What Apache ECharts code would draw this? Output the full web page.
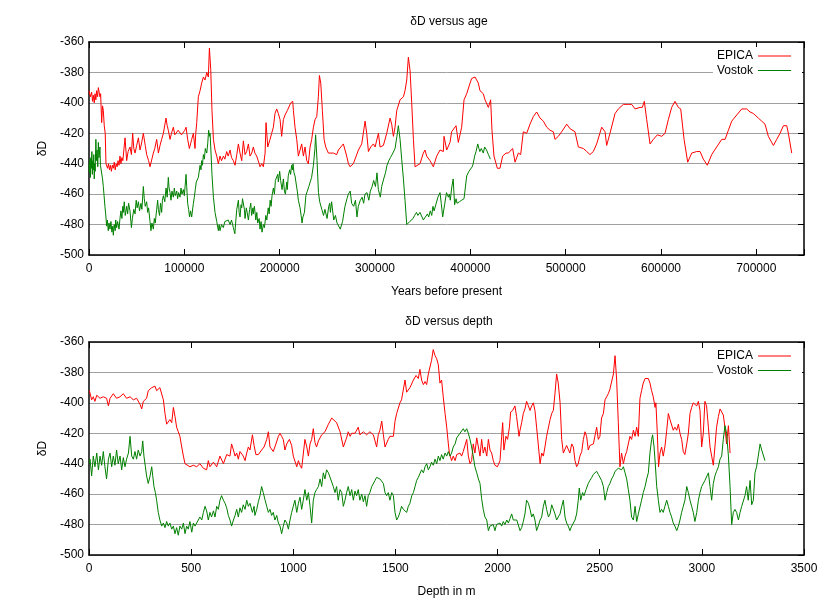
<!DOCTYPE html>
<html><head><meta charset="utf-8">
<script src="https://cdn.jsdelivr.net/npm/echarts@6/dist/echarts.min.js"></script>
<style>html,body{margin:0;padding:0;background:#fff}#c{width:840px;height:600px}</style>
</head><body><div id="c"></div>
<script>
// ---- data ----
const ageTicks = [0,100000,200000,300000,400000,500000,600000,700000];
const depthTicks = [0,500,1000,1500,2000,2500,3000,3500];
const dDTicks = [-500,-480,-460,-440,-420,-400,-380,-360];
const seriesNames = ['EPICA','Vostok'];

// δD versus age (years before present, δD)
const epicaAge = [[0,-392],[1400,-396],[2800,-393],[3700,-399],[4600,-395],[5500,-400],[6300,-394],[7200,-398],[8000,-392],[9000,-396],[9800,-390],[10800,-389],[11500,-396],[12200,-394],[13300,-413],[14200,-402],[15000,-405],[16000,-415],[17000,-420],[17800,-440],[18500,-441],[19500,-443],[20500,-440],[21500,-444],[22500,-441],[23500,-445],[24500,-441],[25500,-443],[26500,-439],[27500,-444],[28500,-440],[29500,-442],[30500,-438],[31500,-441],[32500,-435],[33500,-440],[34500,-436],[35500,-438],[37800,-423],[39500,-438],[41000,-432],[43000,-429],[44500,-434],[45800,-420],[47000,-430],[48300,-433],[50000,-428],[51800,-423],[53500,-431],[55000,-427],[57000,-420],[59000,-428],[60500,-434],[62500,-438],[64000,-442],[65800,-443],[67500,-433],[69000,-430],[71000,-424],[72800,-433],[74500,-428],[76200,-424],[78000,-420],[80800,-410],[82000,-415],[83200,-418],[85000,-424],[86500,-420],[88500,-416],[90000,-421],[92000,-420],[93500,-418],[95500,-417],[97000,-421],[99000,-420],[100500,-418],[101800,-416],[103500,-424],[105300,-430],[106500,-427],[107700,-424],[109500,-420],[111200,-430],[112000,-420],[113000,-413],[114700,-396],[116500,-392],[118200,-387],[120000,-383],[121700,-385],[123500,-380],[125200,-383],[126300,-364],[127700,-378],[129000,-405],[130500,-424],[132200,-431],[134000,-435],[135700,-440],[137400,-435],[139000,-438],[141000,-435],[142500,-437],[144400,-432],[146000,-435],[148000,-431],[149500,-436],[151400,-438],[153200,-441],[155000,-434],[156700,-427],[158400,-433],[160200,-438],[161900,-425],[163700,-434],[165400,-432],[167200,-427],[168900,-435],[170700,-433],[172400,-429],[174000,-433],[175900,-435],[177500,-438],[179400,-442],[181200,-440],[182900,-442],[184700,-433],[185700,-413],[187500,-429],[189900,-424],[191600,-420],[193400,-416],[195100,-407],[196900,-404],[198600,-407],[200400,-411],[202100,-422],[203900,-411],[205600,-408],[208100,-405],[209500,-406],[211600,-400],[213700,-399],[214400,-405],[216100,-416],[217900,-424],[219600,-435],[221400,-436],[223100,-427],[224900,-435],[226600,-429],[228400,-438],[230100,-440],[231900,-429],[233600,-424],[235400,-416],[237100,-411],[238900,-409],[240600,-396],[241700,-382],[243100,-387],[244800,-405],[246600,-424],[248300,-429],[251100,-433],[252900,-434],[256300,-433],[259800,-434],[261600,-431],[263300,-432],[266800,-427],[270300,-435],[272100,-440],[273800,-442],[277300,-440],[279100,-440],[282600,-431],[286100,-427],[289600,-412],[291300,-420],[293100,-432],[295500,-429],[298300,-427],[300100,-429],[303600,-420],[305300,-429],[308800,-428],[312300,-420],[315800,-410],[317500,-414],[319300,-422],[321000,-416],[322800,-405],[326300,-398],[329800,-396],[331500,-392],[333300,-385],[335000,-370],[336800,-379],[338500,-400],[340300,-424],[342000,-442],[347200,-440],[350700,-433],[352400,-431],[354200,-435],[357700,-438],[361200,-442],[364700,-435],[368200,-431],[371700,-432],[372400,-422],[375200,-431],[378700,-426],[380400,-419],[382200,-420],[385000,-415],[387400,-426],[390900,-416],[393400,-398],[396200,-394],[399700,-387],[401400,-384],[404900,-383],[408400,-387],[410100,-392],[413600,-394],[415400,-398],[418900,-403],[421300,-398],[422700,-418],[424800,-435],[428300,-443],[431100,-443],[433900,-435],[437400,-433],[439900,-433],[441600,-432],[444400,-430],[446900,-439],[450400,-433],[452800,-434],[455600,-419],[459100,-420],[462600,-414],[466100,-409],[469600,-406],[473100,-410],[476600,-412],[480100,-416],[483600,-418],[487100,-419],[488800,-424],[492300,-422],[495800,-419],[501100,-414],[504600,-417],[509800,-419],[513300,-429],[518600,-430],[522100,-432],[525500,-434],[529000,-432],[532500,-427],[537800,-416],[541300,-419],[543000,-428],[546500,-420],[551800,-407],[555300,-404],[560500,-401],[565800,-401],[569300,-401],[572800,-404],[578000,-403],[580400,-403],[582500,-399],[585000,-411],[588500,-427],[592000,-424],[596200,-421],[600700,-422],[604200,-420],[607700,-411],[611200,-403],[614700,-399],[618200,-403],[620700,-404],[624200,-424],[628000,-439],[632200,-433],[637500,-432],[641000,-432],[644400,-437],[648600,-441],[653200,-434],[658400,-429],[663700,-424],[667200,-424],[670700,-418],[674200,-412],[679400,-408],[684700,-404],[689900,-404],[693400,-406],[696900,-407],[698700,-406],[702100,-410],[705600,-412],[709100,-414],[712600,-422],[717900,-428],[721400,-424],[724900,-420],[728400,-415],[731900,-415],[733600,-420],[737100,-433]];

const vostokAge = [[0,-440],[500,-446],[1000,-437],[1500,-449],[2000,-436],[2500,-443],[3000,-432],[3500,-447],[4000,-438],[4500,-444],[5000,-434],[5500,-450],[6000,-440],[6500,-445],[7200,-424],[7800,-438],[8500,-431],[9200,-442],[9800,-426],[10500,-436],[11500,-429],[12000,-441],[13300,-442],[14200,-450],[15000,-455],[15800,-461],[16700,-468],[17500,-473],[18500,-481],[19300,-477],[20200,-484],[21000,-479],[22000,-483],[23000,-478],[24000,-485],[25000,-481],[25500,-487],[26500,-480],[27500,-484],[28000,-477],[29000,-482],[30000,-478],[31500,-483],[32500,-476],[33500,-471],[34500,-476],[35500,-468],[36000,-472],[37000,-465],[38000,-474],[39500,-468],[40500,-473],[41500,-466],[43000,-471],[44500,-482],[45500,-476],[47000,-470],[48300,-473],[49500,-464],[50500,-469],[51800,-465],[53000,-471],[54500,-466],[55500,-470],[57000,-455],[58000,-463],[59000,-468],[60500,-465],[61500,-472],[62500,-469],[64000,-478],[65000,-484],[66000,-479],[67500,-483],[68500,-476],[69500,-479],[71000,-470],[72000,-464],[72800,-470],[74000,-474],[75000,-466],[76200,-472],[77000,-464],[78000,-461],[79500,-465],[80800,-456],[82000,-462],[83200,-449],[84000,-456],[85000,-459],[86000,-464],[87000,-458],[88500,-462],[89500,-456],[90500,-461],[92000,-458],[93000,-463],[94000,-459],[95500,-462],[96500,-456],[97500,-460],[99000,-457],[100000,-461],[101800,-447],[102500,-455],[103500,-466],[104500,-470],[105500,-475],[106500,-471],[107700,-475],[109500,-466],[110500,-462],[111500,-457],[112500,-452],[114700,-449],[116500,-441],[117500,-444],[118200,-438],[119000,-441],[120000,-434],[121000,-437],[122000,-430],[123500,-433],[124500,-427],[125500,-418],[126300,-422],[127000,-420],[127700,-429],[129000,-447],[130500,-462],[132200,-472],[134000,-478],[135700,-484],[136500,-480],[137400,-484],[139000,-480],[140900,-482],[142500,-478],[144400,-479],[146000,-477],[148000,-480],[149500,-477],[151400,-482],[153000,-486],[153800,-479],[155000,-470],[156700,-464],[157500,-472],[158400,-475],[159500,-467],[160200,-469],[161000,-463],[161900,-462],[163000,-470],[163700,-476],[165000,-469],[165900,-472],[167200,-477],[168500,-470],[169700,-466],[170600,-474],[172000,-469],[172400,-473],[173500,-468],[175000,-477],[176000,-472],[177000,-479],[178500,-476],[179400,-483],[180500,-478],[181500,-485],[182900,-480],[184000,-482],[185500,-474],[186500,-477],[188000,-469],[189000,-473],[190000,-464],[191000,-468],[192000,-461],[193400,-456],[194500,-460],[195500,-451],[196900,-452],[198000,-447],[198600,-452],[200000,-445],[201000,-451],[202500,-457],[203900,-450],[205000,-458],[206000,-460],[207500,-452],[208000,-457],[209000,-448],[210500,-444],[211500,-447],[212500,-441],[213500,-444],[214000,-440],[215000,-446],[216100,-448],[217500,-454],[218500,-458],[219600,-464],[221400,-469],[222500,-474],[223500,-479],[224400,-475],[226000,-472],[227500,-461],[229000,-458],[230600,-455],[232000,-452],[233500,-449],[235400,-441],[237000,-430],[237700,-421],[239200,-438],[240700,-459],[242000,-465],[244200,-470],[246000,-474],[247500,-470],[249700,-476],[251500,-468],[252500,-466],[253200,-472],[254500,-465],[256700,-477],[258500,-474],[260200,-479],[262000,-480],[263600,-483],[264500,-481],[266000,-478],[267200,-473],[268500,-468],[270600,-463],[272000,-460],[274000,-458],[275500,-466],[277600,-468],[279500,-464],[281100,-475],[282500,-468],[284600,-464],[286500,-462],[288100,-466],[289500,-460],[291600,-459],[293500,-464],[295100,-458],[297000,-455],[298600,-451],[300500,-455],[302100,-446],[303500,-457],[305600,-462],[307000,-455],[309100,-450],[311000,-446],[312600,-441],[314500,-438],[316100,-436],[318000,-434],[319600,-435],[321000,-430],[323000,-422],[324500,-415],[326300,-424],[328000,-437],[329800,-450],[331500,-464],[333300,-480],[335000,-479],[336500,-478],[338500,-477],[340000,-476],[341500,-474],[343500,-472],[345000,-474],[347200,-472],[350700,-477],[352400,-478],[355000,-473],[356300,-475],[358000,-471],[359500,-474],[360800,-468],[362000,-471],[364000,-470],[366000,-462],[368200,-459],[369500,-466],[371000,-475],[373000,-467],[375000,-459],[377000,-462],[378000,-460],[379000,-464],[380400,-456],[382000,-450],[383500,-467],[385000,-463],[386000,-466],[388500,-465],[390900,-464],[393400,-463],[396200,-448],[398500,-445],[400000,-446],[402000,-442],[403000,-440],[404500,-435],[406000,-432],[407800,-427],[409000,-430],[410000,-432],[411500,-430],[413600,-433],[415000,-429],[417000,-431],[419000,-434],[421000,-437]];

// δD versus depth (metres, δD)
const epicaDepth = [[2,-392],[13,-398],[21,-396],[29,-399],[38,-395],[46,-396],[54,-397],[70,-396],[86,-397],[95,-402],[103,-397],[119,-394],[135,-397],[152,-396],[168,-394],[184,-397],[201,-396],[217,-398],[233,-397],[250,-401],[258,-404],[266,-399],[282,-397],[290,-392],[307,-390],[315,-391],[323,-389],[331,-392],[347,-390],[356,-391],[364,-398],[372,-407],[380,-414],[388,-415],[396,-411],[405,-413],[413,-403],[421,-409],[429,-416],[437,-419],[445,-422],[454,-429],[462,-435],[470,-440],[478,-441],[494,-442],[511,-441],[527,-442],[543,-440],[560,-443],[576,-444],[584,-438],[592,-442],[609,-439],[625,-442],[641,-435],[658,-440],[674,-434],[690,-435],[698,-427],[707,-431],[715,-435],[723,-433],[731,-437],[739,-432],[755,-435],[764,-438],[772,-433],[780,-429],[788,-431],[800,-421],[808,-428],[817,-434],[829,-434],[845,-431],[857,-429],[870,-424],[878,-419],[886,-429],[902,-432],[915,-427],[927,-422],[935,-420],[943,-422],[951,-424],[959,-431],[968,-427],[981,-424],[992,-428],[1000,-435],[1017,-442],[1025,-438],[1033,-441],[1041,-443],[1049,-442],[1057,-424],[1066,-429],[1074,-435],[1082,-427],[1090,-424],[1098,-417],[1106,-426],[1114,-429],[1123,-425],[1131,-424],[1139,-421],[1147,-420],[1155,-419],[1172,-414],[1188,-410],[1196,-410],[1212,-413],[1229,-419],[1245,-429],[1261,-423],[1269,-419],[1278,-422],[1286,-420],[1302,-420],[1318,-416],[1326,-421],[1343,-419],[1359,-421],[1375,-419],[1392,-421],[1408,-429],[1416,-421],[1424,-418],[1433,-412],[1441,-421],[1449,-429],[1457,-430],[1465,-424],[1473,-422],[1490,-422],[1498,-412],[1506,-407],[1522,-400],[1530,-398],[1547,-385],[1555,-393],[1571,-390],[1588,-385],[1601,-382],[1612,-384],[1620,-378],[1628,-385],[1637,-388],[1645,-386],[1653,-388],[1661,-381],[1669,-380],[1677,-372],[1685,-365],[1694,-369],[1702,-371],[1710,-375],[1718,-387],[1726,-385],[1734,-396],[1743,-407],[1751,-416],[1759,-427],[1764,-433],[1775,-438],[1783,-435],[1792,-438],[1800,-434],[1808,-435],[1816,-433],[1824,-435],[1832,-432],[1840,-433],[1849,-424],[1857,-435],[1865,-440],[1873,-438],[1881,-427],[1889,-433],[1898,-423],[1906,-429],[1914,-435],[1922,-424],[1930,-433],[1938,-429],[1947,-435],[1955,-424],[1963,-431],[1971,-433],[1979,-438],[1987,-441],[1999,-442],[2012,-438],[2020,-422],[2025,-413],[2031,-431],[2041,-422],[2049,-424],[2058,-416],[2064,-406],[2074,-405],[2085,-402],[2093,-409],[2105,-422],[2110,-418],[2118,-413],[2126,-407],[2134,-404],[2142,-399],[2151,-402],[2159,-405],[2167,-402],[2175,-400],[2183,-405],[2191,-416],[2199,-427],[2208,-440],[2216,-433],[2224,-435],[2232,-429],[2240,-422],[2257,-411],[2265,-407],[2273,-405],[2281,-394],[2289,-381],[2297,-387],[2306,-400],[2314,-424],[2322,-433],[2330,-433],[2338,-428],[2354,-433],[2363,-427],[2371,-429],[2379,-438],[2387,-442],[2395,-440],[2403,-435],[2412,-432],[2420,-424],[2428,-419],[2436,-422],[2444,-431],[2452,-428],[2461,-429],[2469,-427],[2485,-416],[2493,-424],[2501,-422],[2509,-410],[2518,-407],[2526,-398],[2534,-396],[2542,-394],[2550,-391],[2558,-390],[2567,-381],[2575,-369],[2583,-385],[2591,-413],[2599,-442],[2607,-433],[2616,-440],[2624,-435],[2632,-432],[2640,-433],[2648,-422],[2656,-424],[2665,-418],[2673,-422],[2681,-416],[2689,-422],[2697,-397],[2705,-392],[2713,-387],[2722,-384],[2730,-383],[2738,-384],[2746,-387],[2754,-392],[2762,-396],[2771,-403],[2775,-400],[2782,-420],[2788,-442],[2795,-433],[2803,-429],[2811,-435],[2819,-429],[2828,-418],[2836,-407],[2844,-411],[2852,-410],[2860,-418],[2868,-416],[2877,-418],[2885,-414],[2893,-420],[2901,-424],[2909,-432],[2917,-434],[2926,-427],[2934,-420],[2942,-407],[2950,-403],[2958,-400],[2966,-401],[2975,-402],[2983,-399],[2991,-405],[2999,-429],[3007,-420],[3015,-399],[3023,-402],[3032,-416],[3040,-429],[3048,-435],[3056,-441],[3064,-429],[3072,-416],[3081,-409],[3089,-404],[3097,-405],[3105,-408],[3113,-416],[3121,-427],[3130,-415],[3138,-433]];

const vostokDepth = [[2,-440],[5,-437],[13,-448],[21,-435],[29,-442],[38,-433],[46,-444],[54,-435],[62,-441],[70,-432],[78,-442],[86,-450],[95,-437],[103,-433],[111,-442],[119,-435],[127,-441],[135,-431],[143,-440],[152,-435],[160,-444],[168,-436],[176,-442],[184,-437],[193,-433],[201,-422],[209,-435],[217,-437],[225,-432],[233,-437],[241,-431],[250,-435],[258,-432],[263,-425],[269,-435],[276,-442],[282,-448],[290,-453],[299,-448],[307,-442],[312,-448],[318,-455],[325,-459],[331,-464],[339,-472],[347,-477],[356,-481],[364,-479],[372,-482],[380,-478],[388,-481],[396,-479],[405,-483],[413,-481],[421,-486],[429,-482],[437,-487],[445,-481],[454,-483],[462,-479],[470,-486],[478,-481],[486,-483],[494,-478],[503,-485],[511,-479],[519,-481],[527,-480],[535,-477],[543,-475],[552,-477],[560,-472],[568,-468],[576,-471],[584,-477],[592,-472],[600,-475],[609,-471],[617,-475],[625,-468],[633,-470],[641,-464],[649,-461],[658,-464],[666,-466],[674,-469],[682,-474],[690,-477],[698,-481],[707,-477],[715,-474],[723,-470],[731,-475],[739,-469],[747,-472],[755,-467],[764,-470],[772,-464],[780,-468],[788,-466],[800,-472],[808,-468],[812,-474],[821,-470],[829,-465],[837,-461],[845,-455],[853,-459],[862,-464],[870,-468],[878,-472],[886,-470],[894,-474],[902,-472],[910,-477],[919,-474],[927,-479],[935,-481],[943,-486],[951,-481],[959,-477],[968,-479],[976,-483],[984,-477],[992,-472],[1000,-468],[1008,-464],[1017,-472],[1025,-466],[1033,-462],[1041,-470],[1049,-464],[1057,-457],[1066,-464],[1074,-459],[1082,-468],[1090,-479],[1098,-464],[1106,-459],[1114,-457],[1123,-455],[1131,-450],[1139,-455],[1147,-446],[1155,-450],[1163,-444],[1172,-446],[1180,-445],[1188,-452],[1196,-455],[1204,-459],[1212,-455],[1220,-464],[1229,-457],[1237,-459],[1245,-468],[1253,-464],[1261,-459],[1269,-455],[1278,-461],[1286,-457],[1294,-464],[1302,-458],[1310,-461],[1318,-457],[1326,-464],[1335,-460],[1343,-465],[1351,-461],[1359,-468],[1367,-461],[1375,-459],[1384,-455],[1392,-456],[1400,-451],[1408,-449],[1416,-448],[1424,-450],[1433,-449],[1441,-453],[1449,-459],[1457,-461],[1465,-459],[1473,-464],[1482,-459],[1490,-461],[1498,-472],[1506,-477],[1514,-475],[1522,-472],[1530,-468],[1539,-470],[1547,-469],[1555,-472],[1563,-468],[1571,-466],[1580,-461],[1588,-459],[1596,-455],[1604,-451],[1612,-449],[1620,-448],[1628,-444],[1637,-446],[1645,-442],[1653,-440],[1661,-444],[1669,-442],[1677,-439],[1685,-441],[1694,-437],[1702,-440],[1710,-435],[1718,-438],[1726,-434],[1734,-437],[1743,-433],[1751,-435],[1759,-432],[1767,-435],[1775,-433],[1783,-429],[1792,-427],[1800,-423],[1808,-422],[1816,-420],[1824,-419],[1832,-417],[1840,-419],[1849,-417],[1857,-420],[1865,-424],[1873,-429],[1881,-435],[1889,-442],[1898,-446],[1906,-450],[1914,-453],[1922,-463],[1930,-470],[1938,-475],[1947,-477],[1955,-484],[1963,-481],[1971,-482],[1979,-480],[1987,-484],[1995,-480],[2004,-481],[2012,-479],[2020,-481],[2028,-478],[2036,-480],[2045,-477],[2053,-479],[2061,-476],[2069,-473],[2077,-477],[2085,-478],[2094,-477],[2102,-476],[2110,-484],[2118,-482],[2126,-478],[2134,-473],[2142,-464],[2151,-466],[2159,-470],[2167,-475],[2175,-473],[2183,-477],[2191,-484],[2199,-481],[2208,-477],[2216,-475],[2224,-468],[2232,-464],[2240,-470],[2249,-475],[2257,-473],[2265,-467],[2273,-466],[2281,-473],[2289,-477],[2297,-475],[2306,-473],[2314,-468],[2322,-464],[2330,-475],[2338,-479],[2346,-481],[2354,-484],[2363,-481],[2371,-480],[2379,-477],[2387,-473],[2395,-464],[2400,-456],[2407,-464],[2416,-459],[2423,-461],[2433,-457],[2444,-453],[2452,-451],[2461,-449],[2469,-447],[2477,-446],[2485,-445],[2493,-447],[2501,-448],[2509,-451],[2518,-455],[2526,-464],[2534,-459],[2542,-455],[2550,-453],[2558,-450],[2567,-448],[2575,-445],[2583,-444],[2591,-443],[2599,-442],[2607,-444],[2616,-442],[2624,-446],[2632,-450],[2640,-457],[2648,-464],[2656,-475],[2665,-477],[2673,-468],[2681,-478],[2689,-473],[2697,-473],[2705,-464],[2713,-459],[2722,-455],[2730,-450],[2738,-446],[2746,-433],[2754,-424],[2759,-421],[2766,-429],[2772,-440],[2779,-455],[2787,-464],[2795,-472],[2803,-470],[2811,-472],[2819,-468],[2828,-464],[2836,-468],[2844,-472],[2852,-475],[2860,-479],[2868,-481],[2877,-484],[2885,-481],[2893,-477],[2901,-472],[2909,-468],[2917,-464],[2926,-455],[2934,-459],[2942,-464],[2950,-468],[2958,-472],[2966,-478],[2975,-472],[2983,-464],[2991,-459],[2999,-455],[3007,-455],[3015,-451],[3023,-452],[3032,-446],[3040,-455],[3048,-464],[3056,-453],[3064,-448],[3072,-445],[3081,-442],[3089,-437],[3097,-435],[3105,-424],[3113,-415],[3121,-420],[3130,-435],[3138,-455],[3146,-480],[3154,-472],[3162,-470],[3170,-472],[3179,-477],[3187,-472],[3195,-468],[3203,-469],[3211,-461],[3219,-455],[3227,-464],[3236,-451],[3244,-467],[3252,-464],[3260,-446],[3268,-442],[3276,-435],[3285,-427],[3293,-431],[3301,-430],[3309,-438]];

// ---- chart ----
const FONT = "'Liberation Sans', Arial, Helvetica, sans-serif";
const BLACK = '#000';
const GRIDLINE = '#a0a0a0';
const RED = '#ff0000', GREEN = '#008000';

function xPair(gi, ticks, name) {
  const min = 0, max = gi === 0 ? 750000 : 3500, interval = ticks[1] - ticks[0];
  const line = {show: true, onZero: false, lineStyle: {color: BLACK, width: 1.5}};
  return [
    {type: 'value', gridIndex: gi, position: 'bottom', min, max, interval,
     name, nameLocation: 'middle', nameGap: 31,
     nameTextStyle: {color: BLACK, fontSize: 12, fontFamily: FONT},
     axisLine: line, axisTick: {inside: true, length: 6, lineStyle: {color: BLACK}},
     axisLabel: {color: BLACK, fontSize: 12, fontFamily: FONT, margin: 8,
                 formatter: v => ticks.includes(v) ? String(v) : ''},
     splitLine: {show: false}},
    {type: 'value', gridIndex: gi, position: 'top', min, max, interval,
     axisLine: line, axisTick: {inside: true, length: 6, lineStyle: {color: BLACK}},
     axisLabel: {show: false}, splitLine: {show: false}}
  ];
}
function yPair(gi) {
  const line = {show: true, onZero: false, lineStyle: {color: BLACK, width: 1.5}};
  return [
    {type: 'value', gridIndex: gi, position: 'left', min: dDTicks[0], max: dDTicks[dDTicks.length - 1],
     interval: dDTicks[1] - dDTicks[0],
     name: 'δD', nameLocation: 'middle', nameGap: 33, nameRotate: 90,
     nameTextStyle: {color: BLACK, fontSize: 12, fontFamily: FONT},
     axisLine: line, axisTick: {show: false},
     axisLabel: {color: BLACK, fontSize: 12, fontFamily: FONT, margin: 5, formatter: v => String(v)},
     splitLine: {show: true, lineStyle: {color: GRIDLINE, width: 1}}},
    {type: 'value', gridIndex: gi, position: 'right', min: dDTicks[0], max: dDTicks[dDTicks.length - 1],
     interval: dDTicks[1] - dDTicks[0],
     axisLine: line, axisTick: {inside: true, length: 6, lineStyle: {color: BLACK}},
     axisLabel: {show: false}, splitLine: {show: false}}
  ];
}
function legend(top) {
  return {data: seriesNames, orient: 'vertical', align: 'right', right: 38, top,
          icon: 'path://M0,0L33,0L33,1.2L0,1.2Z', symbolKeepAspect: true,
          itemWidth: 33, itemHeight: 12, itemGap: 2.5, padding: [3, 11, 3, 4],
          backgroundColor: '#fff', selectedMode: false,
          textStyle: {color: BLACK, fontSize: 12, fontFamily: FONT}};
}
function line(name, data, xi, yi, color) {
  return {type: 'line', name, data, xAxisIndex: xi, yAxisIndex: yi, symbol: 'none',
          showSymbol: false, sampling: null, animation: false,
          lineStyle: {color, width: 1}, itemStyle: {color}};
}

const option = {
  backgroundColor: '#fff',
  animation: false,
  grid: [{left: 89, top: 42, width: 715, height: 213},
         {left: 89, top: 342, width: 715, height: 213}],
  xAxis: [...xPair(0, ageTicks, 'Years before present'), ...xPair(1, depthTicks, 'Depth in m')],
  yAxis: [...yPair(0), ...yPair(1)],
  legend: [legend(47), legend(347)],
  graphic: [
    {type: 'text', x: 449, y: 22, style: {text: 'δD versus age', align: 'center', verticalAlign: 'middle',
      fontSize: 12, fontFamily: FONT, fill: BLACK}},
    {type: 'text', x: 449, y: 322, style: {text: 'δD versus depth', align: 'center', verticalAlign: 'middle',
      fontSize: 12, fontFamily: FONT, fill: BLACK}}
  ],
  series: [
    line('EPICA', epicaAge, 0, 0, RED),
    line('Vostok', vostokAge, 0, 0, GREEN),
    line('EPICA', epicaDepth, 2, 2, RED),
    line('Vostok', vostokDepth, 2, 2, GREEN)
  ]
};
const chart = echarts.init(document.getElementById('c'), null, {renderer: 'canvas'});
chart.setOption(option);
</script>
</body></html>
